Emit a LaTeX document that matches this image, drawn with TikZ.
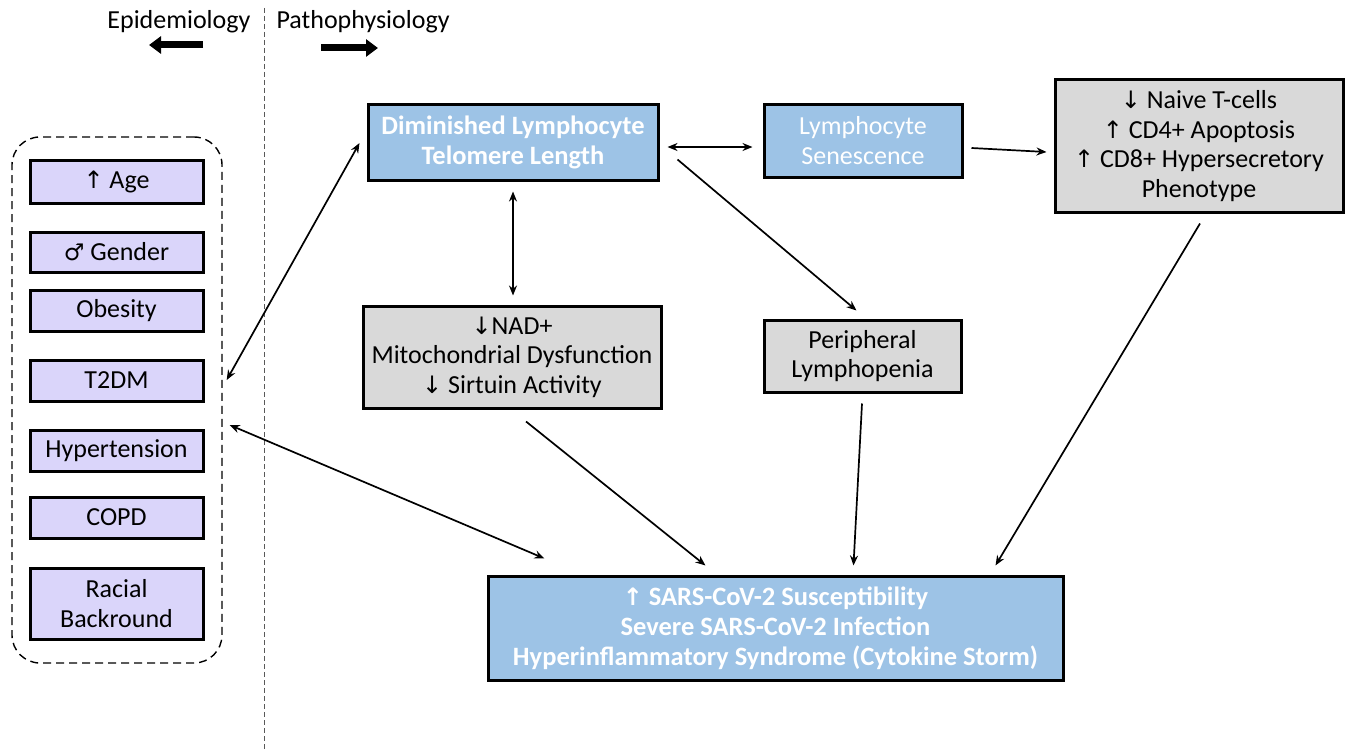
\documentclass[tikz,border=0pt]{standalone}
\usepackage{fontspec}
\setmainfont{Carlito}
\newfontfamily\symf{DejaVu Sans}
\usetikzlibrary{arrows.meta,calc}
\definecolor{bluefill}{RGB}{157,195,230}
\definecolor{lavfill}{RGB}{218,213,250}
\definecolor{grayfill}{RGB}{217,217,217}
\newcommand{\up}{{\symf\fontsize{24}{24}\selectfont ↑}}
\newcommand{\dn}{{\symf\fontsize{24}{24}\selectfont ↓}}
\newcommand{\male}{{\symf\fontsize{23}{24}\selectfont ♂}}
\begin{document}
\begin{tikzpicture}[x=1pt,y=-1pt,
  every node/.style={font=\fontsize{26}{29.5}\selectfont},
  boxbase/.style={draw=black,line width=3pt,align=center,inner sep=0pt},
  lav/.style={boxbase,fill=lavfill,minimum width=173pt},
  bluebox/.style={boxbase,fill=bluefill,text=white},
  graybox/.style={boxbase,fill=grayfill},
  conn/.style={line width=1.7pt,-{Stealth[length=10pt,width=8pt]}},
  dconn/.style={line width=1.7pt,{Stealth[length=10pt,width=8pt]}-{Stealth[length=10pt,width=8pt]}},
  bigarrow/.style={line width=7pt,-{Triangle[length=12pt,width=17pt]}}]
\useasboundingbox (0,0) rectangle (1347,752);
% divider
\coordinate (divtop) at (264,8);
\coordinate (divbot) at (264,752);
\draw[dash pattern=on 5pt off 3pt,line width=0.6pt,gray!70!black] (divtop) -- (divbot);
\node[anchor=east] (epi) at (254,22) {Epidemiology};
\node[anchor=west] (path) at (273,22) {Pathophysiology};
\coordinate (la1) at (203,45);
\coordinate (la2) at (149,45);
\coordinate (ra1) at (321,48);
\coordinate (ra2) at (378,48);
\draw[bigarrow] (la1) -- (la2);
\draw[bigarrow] (ra1) -- (ra2);
% left group
\node[draw,dash pattern=on 8pt off 5pt,line width=1.4pt,rounded corners=28pt,minimum width=210pt,minimum height=526pt] (grp) at (117,400) {};
\node[lav,minimum height=43pt] (age) at (116.5,181.5) {\up\ Age};
\node[lav,minimum height=40pt] (gen) at (116.5,252) {\male\ Gender};
\node[lav,minimum height=41pt] (obe) at (116.5,310.5) {Obesity};
\node[lav,minimum height=41pt] (t2d) at (116.5,380.5) {T2DM};
\node[lav,minimum height=41pt] (hyp) at (116.5,450.5) {Hypertension};
\node[lav,minimum height=41pt] (copd) at (116.5,517.5) {COPD};
\node[lav,minimum height=71pt] (race) at (116.5,603.5) {Racial\\Backround};
% right nodes
\node[bluebox,minimum width=290pt,minimum height=76pt,font=\fontsize{26.5}{30}\selectfont\bfseries] (dim) at (513,142) {Diminished Lymphocyte\\Telomere Length};
\node[bluebox,minimum width=198pt,minimum height=73pt] (sen) at (863,140.5) {Lymphocyte\\Senescence};
\node[graybox,minimum width=288pt,minimum height=132pt] (tc) at (1199,146) {\dn\ Naive T-cells\\\up\ CD4+ Apoptosis\\\up\ CD8+ Hypersecretory\\Phenotype};
\node[graybox,minimum width=298pt,minimum height=102pt] (nad) at (512,357) {\dn NAD+\\Mitochondrial Dysfunction\\\dn\ Sirtuin Activity};
\node[graybox,minimum width=197pt,minimum height=72pt] (per) at (862.5,356) {Peripheral\\Lymphopenia};
\node[bluebox,minimum width=575pt,minimum height=104pt,font=\fontsize{26.5}{30}\selectfont\bfseries] (sars) at (775.5,628) {\up\ SARS-CoV-2 Susceptibility\\Severe SARS-CoV-2 Infection\\Hyperinflammatory Syndrome (Cytokine Storm)};
% connectors
\coordinate (g1) at ($(grp.east)+(4,-20)$);
\coordinate (g2) at ($(grp.east)+(7,25)$);
\draw[dconn] (g1) -- ($(dim.west)+(-7,1)$);
\draw[dconn] (g2) -- ($(sars.north west)+(58,-16)$);
\draw[dconn] ($(dim.east)+(8,5)$) -- ($(sen.west)+(-10,6.5)$);
\draw[conn] ($(sen.east)+(8,7.5)$) -- ($(tc.west)+(-7,6)$);
\draw[dconn] ($(dim.south)+(0,10)$) -- ($(nad.north)+(1,-9)$);
\draw[conn] ($(dim.south east)+(18,-22)$) -- ($(per.north)+(-6,-8)$);
\draw[conn] ($(nad.south)+(14,12)$) -- ($(sars.north west)+(219,-9)$);
\draw[conn] ($(per.south)+(-0.5,10)$) -- ($(sars.north west)+(367,-9)$);
\draw[conn] ($(tc.south)+(1,10)$) -- ($(sars.north west)+(509,-9)$);
\end{tikzpicture}
\end{document}
